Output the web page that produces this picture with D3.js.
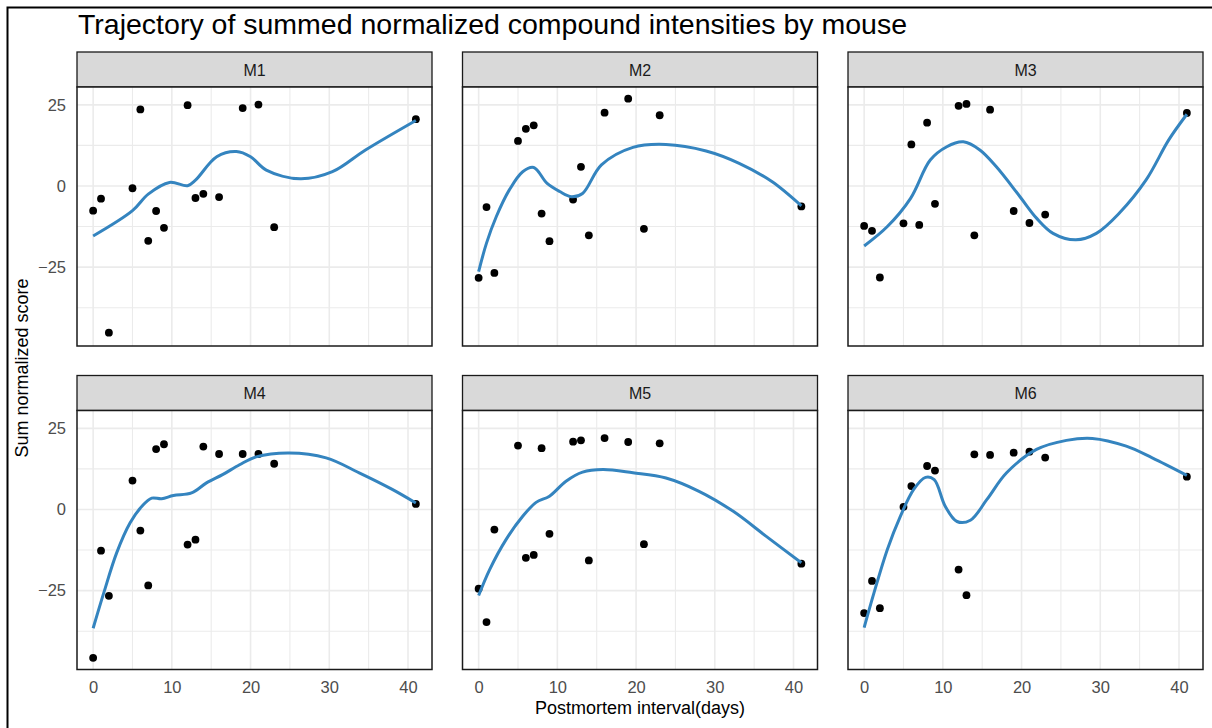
<!DOCTYPE html>
<html>
<head>
<meta charset="utf-8">
<script src="https://d3js.org/d3.v7.min.js"></script>
<style>
    body { margin: 0; background: #fff; }
    svg text { font-family: "Liberation Sans", Arial, sans-serif; }
</style>
</head>
<body>
<svg id="svg"></svg>
<script>
    // --- data ---
    const mice = ['M1', 'M2', 'M3', 'M4', 'M5', 'M6'];
    const days = [0, 1, 2, 5, 6, 7, 8, 9, 12, 13, 14, 16, 19, 21, 23, 41];

    const m1Score = [-7.6, -3.9, -45.2, -0.7, 23.6, -16.9, -7.7, -12.9, 24.9, -3.7, -2.4, -3.4, 24.0, 25.1, -12.7, 20.6];
    const m2Score = [-28.3, -6.5, -26.8, 13.9, 17.6, 18.7, -8.5, -17.0, -4.2, 5.9, -15.2, 22.6, 26.9, -13.2, 21.8, -6.3];
    const m3Score = [-12.3, -13.8, -28.2, -11.5, 12.8, -12.0, 19.5, -5.5, 24.7, 25.3, -15.2, 23.5, -7.7, -11.4, -8.8, 22.5];
    const m4Score = [-45.7, -12.7, -26.6, 8.9, -6.5, -23.4, 18.6, 20.1, -10.8, -9.3, 19.4, 17.1, 17.1, 17.1, 14.1, 1.7];
    const m5Score = [-24.4, -34.7, -6.2, 19.7, -14.9, -14.0, 18.9, -7.5, 20.9, 21.3, -15.7, 22.0, 20.8, -10.7, 20.4, -16.7];
    const m6Score = [-31.9, -22.0, -30.4, 0.8, 7.2, null, 13.4, 12.0, -18.5, -26.4, 17.0, 16.8, 17.5, 17.8, 16.0, 10.1];

    // smoothed trend, [day, value] pairs
    const m1Fit = [[0,-15.4],[5,-7.6],[7,-2.5],[9.7,1.1],[12,0.1],[13,1.8],[15.7,9.0],[18.2,10.6],[20,9.0],[22,4.9],[26.3,2.2],[30.4,4.4],[34.6,11.1],[41,20.2]];
    const m2Fit = [[0,-26.4],[1,-17.6],[2.25,-9.4],[3.9,-1.2],[5.6,4.4],[7,5.7],[8.7,0.8],[10.3,-1.7],[11.8,-3.3],[13.2,-2.3],[15.6,6.5],[19.6,11.9],[23.8,12.8],[28.9,10.8],[33.1,7.0],[37.3,1.3],[41,-6.1]];
    const m3Fit = [[0,-18.5],[2.95,-12.5],[5.9,-3.8],[8.4,8.0],[10.5,12.1],[12.6,13.6],[14.7,11.1],[16.8,5.9],[19.8,-3.3],[21.9,-9.9],[24,-14.6],[26.9,-16.6],[29.5,-14.6],[32.4,-8.4],[35.8,1.8],[38.7,14.2],[41,22.1]];
    const m4Fit = [[0,-36.6],[1.35,-25.7],[3,-13.3],[4.7,-4.1],[6.2,1.0],[7.45,3.5],[8.7,3.3],[10.2,4.3],[12.5,5.1],[14.4,8.2],[16.5,10.8],[18.6,13.8],[20.7,16.2],[24.9,17.4],[29.6,15.9],[33.8,11.3],[38,6.2],[41,2.0]];
    const m5Fit = [[0,-26.5],[1.4,-18.5],[3.5,-9.2],[5.6,-2.1],[7.3,2.2],[9,4.1],[11.1,8.7],[13.2,11.5],[15.8,12.3],[19.6,11.3],[23.8,9.7],[28,5.6],[32.3,-0.5],[36.5,-8.2],[41,-16.4]];
    const m6Fit = [[0,-36.4],[1.25,-25.7],[2.95,-12.3],[4.6,-2.1],[6.3,6.2],[7.8,9.9],[8.9,9.2],[10.3,1.0],[11.8,-3.7],[13.5,-3.3],[15.6,3.1],[18.1,11.3],[21.9,18.5],[25.7,21.3],[29,21.9],[33.3,19.5],[36.6,15.9],[41,10.5]];

    const xTicks = [0, 10, 20, 30, 40];
    const yTicks = [-25, 0, 25];
    const xMinor = [5, 15, 25, 35];
    const yMinor = [-37.5, -12.5, 12.5];

    const scores = [m1Score, m2Score, m3Score, m4Score, m5Score, m6Score];
    const fits = [m1Fit, m2Fit, m3Fit, m4Fit, m5Fit, m6Fit];

    // --- layout ---
    const visWidth = 1212;
    const visHeight = 728;
    const colLeft = [77, 462.5, 848];
    const rowTop = [52, 375.5];
    const stripH = 35;
    const panelW = 355;
    const panelH = 259;

    const svg = d3.select('#svg')
        .attr('width', visWidth)
        .attr('height', visHeight);

    svg.append('rect').attr('width', visWidth).attr('height', visHeight).attr('fill', '#fff');

    // outer frame (only top and left are inside the picture)
    svg.append('path')
        .attr('d', `M7.5,${visHeight} V7.5 H${visWidth}`)
        .attr('fill', 'none')
        .attr('stroke', '#000')
        .attr('stroke-width', 2);

    // title
    svg.append('text')
        .attr('x', 78)
        .attr('y', 34)
        .attr('font-size', 28.5)
        .attr('fill', '#000')
        .text('Trajectory of summed normalized compound intensities by mouse');

    const xScale = d3.scaleLinear().domain([-2.05, 43.05]).range([0, panelW]);
    const yScale = d3.scaleLinear().domain([-49.3, 30.5]).range([panelH, 0]);

    const line = d3.line()
        .x(d => xScale(d[0]))
        .y(d => yScale(d[1]))
        .curve(d3.curveCatmullRom.alpha(0.5));

    mice.forEach((name, i) => {
        const col = i % 3;
        const row = Math.floor(i / 3);
        const g = svg.append('g')
            .attr('transform', `translate(${colLeft[col]}, ${rowTop[row]})`);

        // strip
        g.append('rect')
            .attr('width', panelW).attr('height', stripH)
            .attr('fill', '#d9d9d9')
            .attr('stroke', '#1a1a1a').attr('stroke-width', 1.3);
        g.append('text')
            .attr('x', panelW / 2).attr('y', stripH / 2 + 6)
            .attr('text-anchor', 'middle')
            .attr('font-size', 16)
            .attr('fill', '#1a1a1a')
            .text(name);

        const p = g.append('g').attr('transform', `translate(0, ${stripH})`);

        p.append('rect').attr('width', panelW).attr('height', panelH).attr('fill', '#fff');

        // grid
        p.selectAll('.gx').data(xMinor.concat(xTicks)).enter().append('line')
            .attr('x1', d => xScale(d)).attr('x2', d => xScale(d))
            .attr('y1', 0).attr('y2', panelH)
            .attr('stroke', '#ebebeb')
            .attr('stroke-width', d => xTicks.includes(d) ? 1.6 : 1.1);
        p.selectAll('.gy').data(yMinor.concat(yTicks)).enter().append('line')
            .attr('x1', 0).attr('x2', panelW)
            .attr('y1', d => yScale(d)).attr('y2', d => yScale(d))
            .attr('stroke', '#ebebeb')
            .attr('stroke-width', d => yTicks.includes(d) ? 1.6 : 1.1);

        // points
        const pts = days.map((d, j) => [d, scores[i][j]]).filter(d => d[1] != null);
        p.selectAll('circle').data(pts).enter().append('circle')
            .attr('cx', d => xScale(d[0]))
            .attr('cy', d => yScale(d[1]))
            .attr('r', 3.9)
            .attr('fill', '#000');

        // smooth
        p.append('path')
            .datum(fits[i])
            .attr('d', line)
            .attr('fill', 'none')
            .attr('stroke', '#3484bf')
            .attr('stroke-width', 3);

        p.append('rect')
            .attr('width', panelW).attr('height', panelH)
            .attr('fill', 'none')
            .attr('stroke', '#1a1a1a').attr('stroke-width', 1.5);

        // y tick labels on first column
        if (col === 0) {
            const yAxis = d3.axisLeft(yScale).tickValues(yTicks).tickSize(0).tickPadding(11)
                .tickFormat(d => d < 0 ? '\u2212' + Math.abs(d) : d);
            const ya = p.append('g').call(yAxis);
            ya.select('.domain').remove();
            ya.selectAll('text')
                .attr('font-family', '"Liberation Sans", Arial, sans-serif')
                .attr('font-size', 16.5).attr('fill', '#4d4d4d');
        }
        // x tick labels on bottom row
        if (row === 1) {
            const xAxis = d3.axisBottom(xScale).tickValues(xTicks).tickSize(0).tickPadding(12);
            const xa = p.append('g').attr('transform', `translate(0, ${panelH})`).call(xAxis);
            xa.select('.domain').remove();
            xa.selectAll('text')
                .attr('font-family', '"Liberation Sans", Arial, sans-serif')
                .attr('font-size', 16.5).attr('fill', '#4d4d4d');
        }
    });

    // axis titles
    svg.append('text')
        .attr('x', (colLeft[0] + colLeft[2] + panelW) / 2)
        .attr('y', 714)
        .attr('text-anchor', 'middle')
        .attr('font-size', 18)
        .attr('fill', '#000')
        .text('Postmortem interval(days)');

    svg.append('text')
        .attr('transform', 'translate(28, 368) rotate(-90)')
        .attr('text-anchor', 'middle')
        .attr('font-size', 18)
        .attr('fill', '#000')
        .text('Sum normalized score');
</script>
</body>
</html>
